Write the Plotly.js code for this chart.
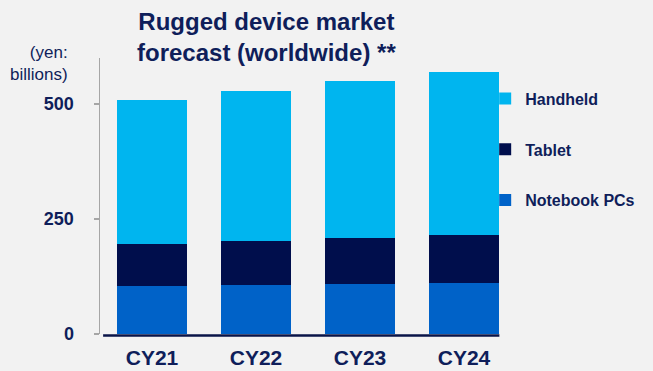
<!DOCTYPE html>
<html>
<head>
<meta charset="utf-8">
<script src="https://cdn.plot.ly/plotly-3.0.1.min.js"></script>
<style>
html,body{margin:0;padding:0;background:#F2F2F2;}
#chart{width:653px;height:371px;}
</style>
</head>
<body>
<div id="chart"></div>
<script>
var categories = ['CY21', 'CY22', 'CY23', 'CY24'];
var notebookPCs = [104, 106, 109, 111];
var tablet = [92, 97, 100, 104];
var handheld = [313, 325, 340, 355];
var yTicks = [0, 250, 500];

var navy = '#0F1E5A';
var FONT = 'Liberation Sans, Arial, sans-serif';

var traces = [
  {type: 'bar', name: 'Notebook PCs', x: categories, y: notebookPCs, marker: {color: '#0062C8'}, legendgroup: 'n', legendrank: 3},
  {type: 'bar', name: 'Tablet', x: categories, y: tablet, marker: {color: '#000E4C'}, legendgroup: 't', legendrank: 2},
  {type: 'bar', name: 'Handheld', x: categories, y: handheld, marker: {color: '#00B5EF'}, legendgroup: 'h', legendrank: 1}
];

var layout = {
  width: 653, height: 371,
  paper_bgcolor: '#F2F2F2', plot_bgcolor: '#F2F2F2',
  margin: {l: 100, r: 137, t: 58, b: 37, autoexpand: false},
  barmode: 'stack', bargap: 0.33,
  font: {family: FONT, color: navy},
  xaxis: {
    type: 'category', range: [-0.5, 3.5],
    showline: false, showgrid: false, zeroline: false,
    ticks: '', ticklabelstandoff: 9,
    tickfont: {family: FONT, size: 21, color: navy},
    tickprefix: '<b>', ticksuffix: '</b>'
  },
  yaxis: {
    range: [0, 600], tickvals: yTicks, ticktext: yTicks.map(function(v){return '<b>' + v + '</b>';}),
    showline: true, linecolor: '#A6A6A6', linewidth: 1.5,
    ticks: 'outside', ticklen: 5, tickcolor: '#A6A6A6', tickwidth: 1.5,
    ticklabelstandoff: 16,
    showgrid: false, zeroline: false,
    tickfont: {family: FONT, size: 18, color: navy}
  },
  legend: {
    xref: 'container', yref: 'container',
    x: 0.743, xanchor: 'left', y: 0.78, yanchor: 'top',
    traceorder: 'grouped', tracegroupgap: 27,
    bgcolor: 'rgba(0,0,0,0)',
    font: {family: FONT, size: 16, color: navy},
    itemwidth: 30
  },
  showlegend: true,
  shapes: [
    {type: 'line', xref: 'x', yref: 'paper', x0: -0.47, x1: 3.34, y0: -0.005, y1: -0.005,
     line: {color: '#0A1448', width: 2.5}}
  ],
  annotations: [
    {text: '<b>Rugged device market<br>forecast (worldwide) **</b>', xref: 'paper', yref: 'paper',
     x: 0.4014, y: 1.19, xanchor: 'center', yanchor: 'top', align: 'center', showarrow: false,
     font: {family: FONT, size: 24, color: navy}},
    {text: '(yen:<br>billions)', xref: 'paper', yref: 'paper', x: -0.072, y: 0.98,
     xanchor: 'right', yanchor: 'middle', align: 'right', showarrow: false,
     font: {family: FONT, size: 17, color: navy}}
  ]
};

traces.forEach(function(t){ t.name = '<b>' + t.name + '</b>'; t.hoverinfo = 'none'; });

Plotly.newPlot('chart', traces, layout, {displayModeBar: false, staticPlot: true});
</script>
</body>
</html>
